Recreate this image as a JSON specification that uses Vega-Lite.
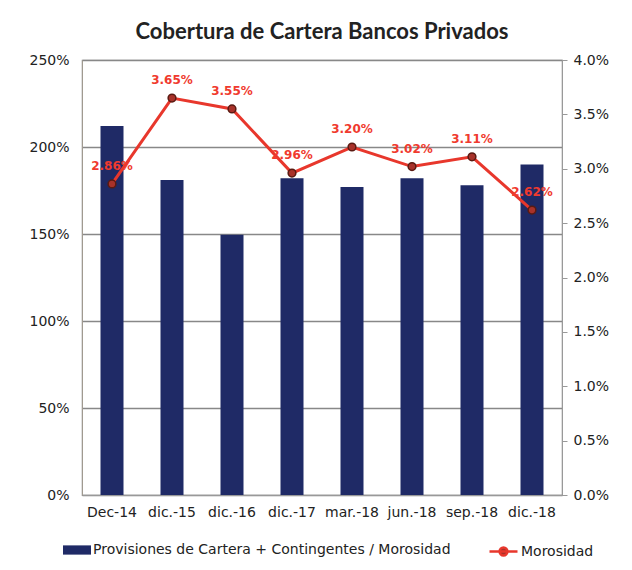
{
  "$schema": "https://vega.github.io/schema/vega-lite/v6.json",
  "width": 480,
  "height": 435,
  "autosize": {"type": "none"},
  "padding": {"left": 82, "top": 60, "right": 70, "bottom": 75},
  "background": "white",
  "title": {
    "text": "Cobertura de Cartera Bancos Privados",
    "font": "Lato",
    "fontSize": 22,
    "fontWeight": "bold",
    "color": "#222222",
    "offset": 9,
    "anchor": "middle"
  },
  "config": {
    "view": {"stroke": "#999999", "strokeWidth": 1.2},
    "font": "DejaVu Sans",
    "axis": {"labelFont": "DejaVu Sans", "labelFontSize": 14, "labelColor": "#222222"},
    "legend": {"labelFont": "DejaVu Sans", "labelFontSize": 14, "labelColor": "#222222", "labelLimit": 0}
  },
  "data": {
    "values": [
      {"periodo": "Dec-14", "cobertura": 2.12, "morosidad": 0.0286},
      {"periodo": "dic.-15", "cobertura": 1.81, "morosidad": 0.0365},
      {"periodo": "dic.-16", "cobertura": 1.495, "morosidad": 0.0355},
      {"periodo": "dic.-17", "cobertura": 1.82, "morosidad": 0.0296},
      {"periodo": "mar.-18", "cobertura": 1.77, "morosidad": 0.032},
      {"periodo": "jun.-18", "cobertura": 1.82, "morosidad": 0.0302},
      {"periodo": "sep.-18", "cobertura": 1.78, "morosidad": 0.0311},
      {"periodo": "dic.-18", "cobertura": 1.9, "morosidad": 0.0262}
    ]
  },
  "encoding": {
    "x": {
      "field": "periodo",
      "type": "nominal",
      "sort": null,
      "scale": {"paddingInner": 0, "paddingOuter": 0},
      "axis": {
        "title": null,
        "labelAngle": 0,
        "ticks": false,
        "domain": true,
        "domainColor": "#999999",
        "labelPadding": 10,
        "labelOverlap": false
      }
    }
  },
  "layer": [
    {
      "mark": {"type": "bar", "size": 23},
      "encoding": {
        "y": {
          "field": "cobertura",
          "type": "quantitative",
          "scale": {"domain": [0, 2.5]},
          "axis": {
            "title": null,
            "format": ".0%",
            "values": [0, 0.5, 1, 1.5, 2, 2.5],
            "grid": true,
            "gridColor": "#888888",
            "gridWidth": 1.5,
            "ticks": false,
            "domain": true,
            "domainColor": "#a09a90",
            "labelPadding": 13
          }
        },
        "fill": {
          "datum": "Provisiones de Cartera + Contingentes / Morosidad",
          "scale": {"range": ["#1f2a66"]},
          "legend": {
            "title": null,
            "orient": "none",
            "legendX": -19,
            "legendY": 476,
            "symbolType": "M-1,-0.33H1V0.33H-1Z",
            "symbolSize": 784,
            "symbolStrokeWidth": 0,
            "labelOffset": 2
          }
        }
      }
    },
    {
      "encoding": {
        "y": {
          "field": "morosidad",
          "type": "quantitative",
          "scale": {"domain": [0, 0.04]},
          "axis": {
            "title": null,
            "orient": "right",
            "format": ".1%",
            "values": [0, 0.005, 0.01, 0.015, 0.02, 0.025, 0.03, 0.035, 0.04],
            "grid": false,
            "ticks": true,
            "tickSize": 5,
            "tickColor": "#999999",
            "domain": true,
            "domainColor": "#999999",
            "labelPadding": 6
          }
        }
      },
      "layer": [
        {
          "mark": {"type": "line", "strokeWidth": 3},
          "encoding": {
            "stroke": {
              "datum": "Morosidad",
              "scale": {"range": ["#e8372c"]},
              "legend": {
                "title": null,
                "orient": "none",
                "legendX": 406,
                "legendY": 476,
                "symbolType": "M-1,0H1M-0.28,0A0.28,0.28 0 1 0 0.28,0A0.28,0.28 0 1 0 -0.28,0",
                "symbolSize": 784,
                "symbolStrokeWidth": 2.5,
                "labelOffset": 2,
                "encode": {"symbols": {"update": {"fill": {"value": "#a8322a"}}}}
              }
            }
          }
        },
        {
          "mark": {
            "type": "point",
            "shape": "circle",
            "filled": true,
            "size": 60,
            "fill": "#a8322a",
            "stroke": "#5a1a12",
            "strokeWidth": 1.5,
            "opacity": 1
          },
          "encoding": {}
        },
        {
          "mark": {
            "type": "text",
            "dy": -18,
            "fontWeight": "bold",
            "fontSize": 12,
            "font": "DejaVu Sans",
            "color": "#f03a2e"
          },
          "encoding": {"text": {"field": "morosidad", "type": "quantitative", "format": ".2%"}}
        }
      ]
    }
  ],
  "resolve": {"scale": {"y": "independent"}}
}
